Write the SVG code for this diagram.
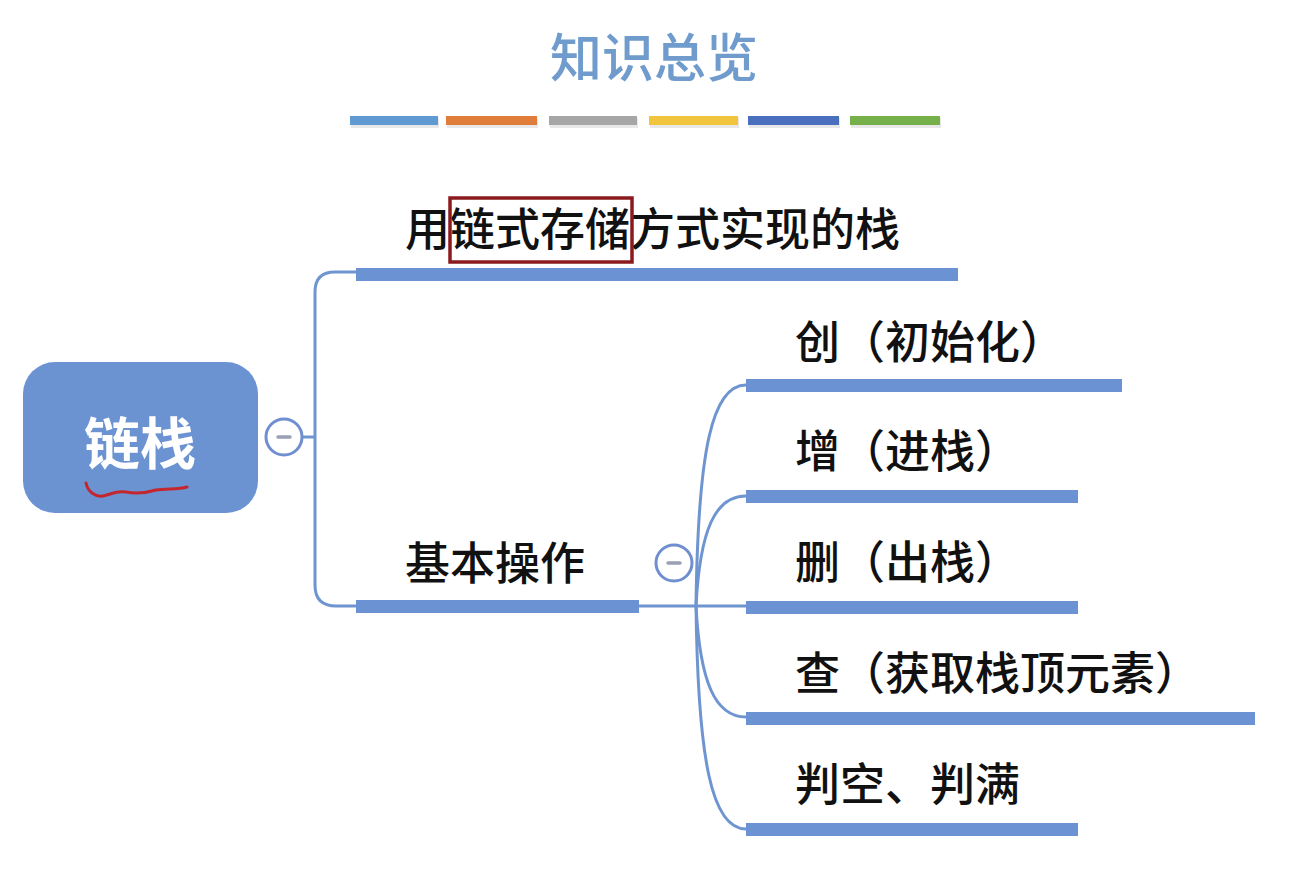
<svg xmlns="http://www.w3.org/2000/svg" width="1310" height="869" viewBox="0 0 1310 869">
<style>
.t{font-family:"Noto Sans CJK SC","Noto Sans",sans-serif;font-size:45px;font-weight:500;fill:#111;}
.bar{fill:#6b93d3;}
.conn{fill:none;stroke:#6f95d0;stroke-width:3;}
.cc{fill:#fff;stroke:#6f8fd0;stroke-width:3;}
.minus{stroke:#9a9fb3;stroke-width:3.5;stroke-linecap:round;}
</style>
<rect x="0" y="0" width="1310" height="869" fill="#fff"/>
<g id="title">
<text x="654" y="77" text-anchor="middle" style="font-family:'Noto Sans CJK SC',sans-serif;font-size:52px;font-weight:500;fill:#6f9ccc;">知识总览</text>
<g id="colorbars">
<rect x="351" y="118" width="88" height="10" fill="#d8d8d8" opacity="0.6"/>
<rect x="447" y="118" width="91" height="10" fill="#d8d8d8" opacity="0.6"/>
<rect x="550" y="118" width="88" height="10" fill="#d8d8d8" opacity="0.6"/>
<rect x="650" y="118" width="89" height="10" fill="#d8d8d8" opacity="0.6"/>
<rect x="749" y="118" width="91" height="10" fill="#d8d8d8" opacity="0.6"/>
<rect x="851" y="118" width="90" height="10" fill="#d8d8d8" opacity="0.6"/>
<rect x="350" y="116" width="88" height="9" fill="#5f9bd2"/>
<rect x="446" y="116" width="91" height="9" fill="#e07d3a"/>
<rect x="549" y="116" width="88" height="9" fill="#a6a6a6"/>
<rect x="649" y="116" width="89" height="9" fill="#f2c33c"/>
<rect x="748" y="116" width="91" height="9" fill="#4a6fbe"/>
<rect x="850" y="116" width="90" height="9" fill="#75b04a"/>
</g>
</g>
<g id="connectors">
<path class="conn" d="M302,437 H315"/>
<path class="conn" d="M315,292 Q315,272 335,272 H356"/>
<path class="conn" d="M315,292 V585 Q315,606 336,606 H356"/>
<path class="conn" d="M638,606 H746"/>
<path class="conn" d="M696,606 C698,450 712,385 746,385"/>
<path class="conn" d="M696,606 C700,530 715,496 746,496"/>
<path class="conn" d="M696,606 C700,682 715,717 746,717"/>
<path class="conn" d="M696,606 C698,762 712,829 746,829"/>
</g>
<g id="root">
<rect x="23" y="362" width="235" height="151" rx="32" fill="#6b93d2"/>
<text x="140" y="464" text-anchor="middle" style="font-family:'Noto Sans CJK SC',sans-serif;font-size:56px;font-weight:700;fill:#fff;">链栈</text>
<path d="M86,483 C88,492 95,497 103,496 C110,495 116,490 126,492 C136,494 146,493 156,490 C166,488 178,490 187,487" fill="none" stroke="#c4262e" stroke-width="3" stroke-linecap="round"/>
<circle class="cc" cx="284" cy="437" r="18"/>
<line class="minus" x1="278" y1="437" x2="290" y2="437"/>
</g>
<g id="node-storage">
<rect class="bar" x="356" y="268" width="602" height="13"/>
<text class="t" x="405" y="246">用链式存储方式实现的栈</text>
<rect x="450" y="198" width="182" height="64" fill="none" stroke="#8b1a1e" stroke-width="3.5"/>
</g>
<g id="node-ops">
<rect class="bar" x="356" y="600" width="283" height="13"/>
<text class="t" x="405" y="580">基本操作</text>
<circle class="cc" cx="674" cy="563" r="18"/>
<line class="minus" x1="668" y1="563" x2="680" y2="563"/>
</g>
<g id="node-create">
<rect class="bar" x="746" y="379" width="376" height="13"/>
<text class="t" x="795" y="359">创（初始化）</text>
</g>
<g id="node-push">
<rect class="bar" x="746" y="490" width="332" height="13"/>
<text class="t" x="795" y="468">增（进栈）</text>
</g>
<g id="node-pop">
<rect class="bar" x="746" y="601" width="332" height="13"/>
<text class="t" x="795" y="579">删（出栈）</text>
</g>
<g id="node-top">
<rect class="bar" x="746" y="712" width="509" height="13"/>
<text class="t" x="795" y="690">查（获取栈顶元素）</text>
</g>
<g id="node-empty">
<rect class="bar" x="746" y="823" width="332" height="13"/>
<text class="t" x="795" y="801">判空、判满</text>
</g>
</svg>
